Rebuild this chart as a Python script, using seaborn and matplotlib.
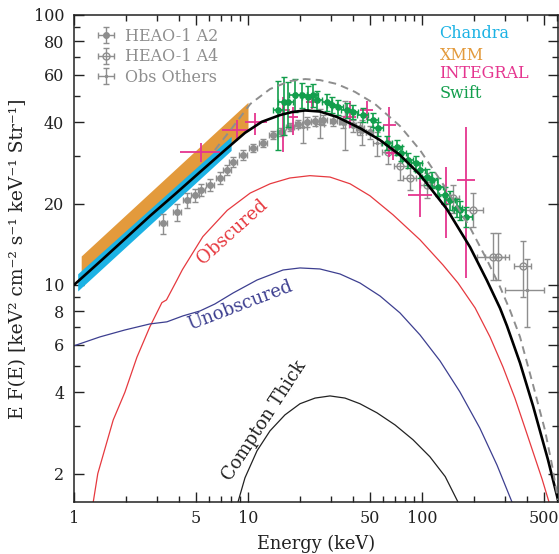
import numpy as np
import pandas as pd
import matplotlib
matplotlib.use("Agg")
import matplotlib.pyplot as plt
import seaborn as sns
from matplotlib.ticker import FixedLocator, FixedFormatter, NullFormatter

sns.set_theme(style="ticks")
plt.rcParams['font.family'] = ['DejaVu Serif']
plt.rcParams['mathtext.fontset'] = 'dejavuserif'

# ---------------- data ----------------
# Total model (thick black)
total_E = [1.0, 1.41, 1.96, 2.73, 3.81, 5.30, 7.38, 9.61, 12.0, 15.3, 17.9, 21.3, 25.9, 32.5, 44.0,
           57.4, 74.7, 97.4, 139, 189, 236, 281, 308, 366, 435, 530, 605]
total_F = [10.0, 12.2, 14.8, 18.0, 21.7, 26.2, 31.6, 36.6, 40.2, 42.6, 43.7, 44.3, 43.9, 41.9, 38.1,
           34.4, 30.3, 25.6, 19.1, 13.8, 10.4, 8.2, 7.05, 5.14, 3.56, 2.25, 1.6]
# Alternative model (grey dashed)
dash_E = [6.45, 8.09, 10.3, 13.4, 17.4, 21.3, 25.9, 32.5, 41.2, 53.7, 74.7, 97.4, 139, 189, 236,
          281, 320, 366, 435, 509, 559, 605]
dash_F = [31.6, 38.1, 46.8, 53.2, 56.9, 57.9, 57.4, 55.5, 51.9, 46.8, 38.8, 31.6, 22.5, 16.3, 12.4,
          9.83, 8.08, 6.42, 4.26, 2.90, 2.15, 1.60]
# Obscured (red)
obs_E = [1.29, 1.37, 1.68, 1.96, 2.3, 2.73, 3.2, 3.4, 3.9, 4.2, 4.8, 5.5, 7.6, 10.3, 13.4, 17.4,
         22.7, 29.6, 38.6, 50.2, 68.1, 97.4, 132, 161, 202, 246, 292, 342, 391, 440, 490, 537]
obs_F = [1.57, 2.0, 3.16, 4.0, 5.4, 7.0, 8.6, 8.8, 10.4, 11.4, 13.1, 15.1, 18.9, 21.9, 23.7, 24.9,
         25.4, 25.1, 23.7, 21.4, 18.2, 14.7, 11.86, 10.17, 8.22, 6.42, 4.97, 3.81, 2.95, 2.35, 1.91, 1.57]
# Unobscured (navy)
unobs_E = [1.0, 1.41, 1.96, 2.73, 3.42, 4.23, 5.30, 6.45, 8.22, 11.27, 15.9, 19.9, 25.9, 33.8, 44.0,
           57.4, 74.7, 97.4, 127, 165, 215, 270, 329]
unobs_F = [5.95, 6.42, 6.81, 7.17, 7.30, 7.68, 8.01, 8.50, 9.34, 10.43, 11.36, 11.56, 11.46, 10.98, 10.17,
           9.10, 7.88, 6.53, 5.23, 4.02, 2.95, 2.15, 1.57]
# Compton thick (thin black)
ct_E = [8.76, 9.61, 11.27, 13.38, 16.3, 19.9, 24.3, 29.6, 36.1, 44.0, 55.1, 70.0, 88.8, 111, 136, 161]
ct_F = [1.57, 1.93, 2.43, 2.88, 3.30, 3.63, 3.81, 3.88, 3.81, 3.63, 3.36, 3.03, 2.67, 2.31, 1.95, 1.57]

# Chandra / XMM bands
chandra_E = [1.05, 8.0]
chandra_lo = [9.5, 31.5]
chandra_hi = [11.0, 35.5]
xmm_E = [1.1, 10.0]
xmm_lo = [11.0, 38.0]
xmm_hi = [12.8, 47.5]

# HEAO-1 A2 (filled grey circles)
a2_E = [3.25, 3.9, 4.45, 4.95, 5.4, 6.05, 6.9, 7.6, 8.2, 9.4, 10.7, 12.2, 13.9, 15.5, 17.4,
        19.5, 21.8, 24.3, 27, 31, 35, 40, 44, 50]
a2_F = [16.9, 18.6, 20.6, 21.5, 22.5, 23.4, 24.9, 26.7, 28.6, 30.3, 32.2, 33.6, 35.9, 37.0, 38.5,
        39.5, 40.2, 40.6, 40.8, 40.6, 40.2, 39.0, 38.0, 36.8]
a2_yerr = [1.4, 1.3, 1.3, 1.2, 1.2, 1.2, 1.2, 1.2, 1.2, 1.2, 1.2, 1.2, 1.3, 1.3, 1.4,
           1.5, 1.6, 1.7, 1.8, 1.9, 2.0, 2.0, 2.0, 2.0]

# HEAO-1 A4 (open grey circles)
a4_E = [64, 75, 85, 107, 150, 196, 255, 272, 380]
a4_F = [31, 27.5, 25, 23.5, 21, 18.9, 12.7, 12.7, 11.8]
a4_ylo = [28, 24.5, 22.5, 21, 18.5, 16.4, 10.4, 10.4, 9.0]
a4_yhi = [34, 30.5, 27.5, 26, 23.5, 21.9, 15.6, 15.6, 14.5]
a4_xlo = [59, 69, 78, 98, 138, 176, 206, 230, 340]
a4_xhi = [70, 82, 93, 117, 163, 224, 300, 318, 425]

# Other observations (small grey points)
oth_E = [20.6, 26, 36, 45, 55, 400]
oth_F = [38.5, 39.5, 40, 37, 33.6, 9.6]
oth_ylo = [33.6, 35, 31.6, 33, 30, 7.0]
oth_yhi = [44.4, 45, 48, 41, 37, 12.5]
oth_xlo = [19.5, 24.5, 34, 42.5, 52, 300]
oth_xhi = [21.7, 27.5, 38, 47.5, 58, 500]

# INTEGRAL (magenta crosses)
int_E = [5.4, 8.6, 11.0, 15.9, 18.2, 23.3, 38.5, 48, 65, 68, 97.5, 137, 178]
int_F = [31.0, 37.5, 40.0, 44.4, 41.9, 47.6, 41.9, 44.4, 39.0, 30.8, 21.5, 20.0, 24.5]
int_xlo = [4.06, 7.1, 9.6, 14.5, 17.0, 21.5, 35, 44, 60, 62, 83, 128, 159]
int_xhi = [6.9, 10.3, 12.8, 17.5, 19.5, 25, 42, 52, 71, 76, 114, 146, 201]
int_ylo = [28.6, 34, 36, 31, 36, 45, 38, 41, 29.8, 29, 17.9, 14.9, 10.6]
int_yhi = [33.6, 41, 43.5, 49.6, 45.6, 50, 48, 48, 45.6, 32.5, 26.2, 27.4, 38.5]

# Swift (green)
sw_E = [14.9, 16.0, 17.0, 18.6, 20.4, 22.0, 23.6, 25.0, 28.5, 30.4, 32.8, 37, 40, 45.7, 52, 56,
        63, 71.5, 76, 83, 93, 97.5, 107, 114, 123, 135, 144, 159, 165, 180]
sw_F = [44.4, 47.5, 47.6, 50.7, 50.7, 49.5, 50.7, 48.4, 47.6, 46.4, 45.6, 44.4, 43.7, 42.6, 40.8, 38.0,
        33.6, 32.4, 30.8, 29.0, 28.3, 26.6, 25.1, 24.5, 23.1, 21.5, 20.6, 19.3, 18.9, 17.9]
sw_yerr = [12.7, 11.5, 9.0, 7.0, 5.5, 5.0, 5.0, 4.0, 3.5, 3.2, 3.0, 2.8, 2.6, 2.5, 2.4, 2.3,
           2.1, 2.0, 2.0, 1.9, 1.8, 1.8, 1.7, 1.7, 1.7, 1.6, 1.6, 1.5, 1.5, 1.5]

# ---------------- colours ----------------
RED = '#e6393f'
NAVY = '#3d3f90'
CYAN = '#1bb2e4'
ORANGE = '#e39a3c'
MAGENTA = '#e5358f'
GREEN = '#129e4c'
GRAY = '#8e8e8e'

fig = plt.figure(figsize=(5.59, 5.54), dpi=100)
ax = fig.add_axes([74 / 559, 1 - 502 / 554, 484 / 559, 487 / 554])
ax.set_xscale('log')
ax.set_yscale('log')

# bands
ax.fill_between(xmm_E, xmm_lo, xmm_hi, color=ORANGE, lw=0, zorder=1)
ax.fill_between(chandra_E, chandra_lo, chandra_hi, color=CYAN, lw=0, zorder=1.1)

# component curves
sns.lineplot(x=obs_E, y=obs_F, ax=ax, color=RED, lw=0.9, zorder=2, estimator=None, sort=False)
sns.lineplot(x=unobs_E, y=unobs_F, ax=ax, color=NAVY, lw=0.9, zorder=2, estimator=None, sort=False)
sns.lineplot(x=ct_E, y=ct_F, ax=ax, color='#222222', lw=0.9, zorder=2, estimator=None, sort=False)

# data points
def asym(v, lo, hi):
    v = np.asarray(v)
    return [v - np.asarray(lo), np.asarray(hi) - v]

h_a2 = ax.errorbar(a2_E, a2_F, yerr=a2_yerr, xerr=[np.array(a2_E) * 0.05, np.array(a2_E) * 0.05],
                   fmt='o', ms=4, color=GRAY, ecolor=GRAY, elinewidth=1.0, capsize=2.5,
                   zorder=3, label='HEAO-1 A2')
h_a4 = ax.errorbar(a4_E, a4_F, yerr=asym(a4_F, a4_ylo, a4_yhi), xerr=asym(a4_E, a4_xlo, a4_xhi),
                   fmt='o', ms=5, mfc='none', mec=GRAY, color=GRAY, ecolor=GRAY, elinewidth=1.0,
                   capsize=2.5, zorder=3, label='HEAO-1 A4')
h_oth = ax.errorbar(oth_E, oth_F, yerr=asym(oth_F, oth_ylo, oth_yhi), xerr=asym(oth_E, oth_xlo, oth_xhi),
                    fmt='.', ms=3, color=GRAY, ecolor=GRAY, elinewidth=1.0, capsize=2.5,
                    zorder=3, label='Obs Others')
ax.errorbar(int_E, int_F, yerr=asym(int_F, int_ylo, int_yhi), xerr=asym(int_E, int_xlo, int_xhi),
            fmt='none', ecolor=MAGENTA, elinewidth=1.3, capsize=0, zorder=3.5)
ax.errorbar(sw_E, sw_F, yerr=sw_yerr, xerr=[np.array(sw_E) * 0.07, np.array(sw_E) * 0.07],
            fmt='o', ms=3.8, color=GREEN, ecolor=GREEN, elinewidth=1.2, capsize=2.5, zorder=3.6)

# totals
sns.lineplot(x=total_E, y=total_F, ax=ax, color='black', lw=1.9, zorder=4, estimator=None, sort=False)
sns.lineplot(x=dash_E, y=dash_F, ax=ax, color=GRAY, lw=1.4, zorder=4, estimator=None, sort=False,
             linestyle=(0, (4, 2.7)))

ax.set_xlim(1, 605)
ax.set_ylim(1.57, 100)

# ticks
ax.xaxis.set_major_locator(FixedLocator([1, 5, 10, 50, 100, 500]))
ax.xaxis.set_major_formatter(FixedFormatter(['1', '5', '10', '50', '100', '500']))
ax.xaxis.set_minor_locator(FixedLocator([2, 3, 4, 6, 7, 8, 9, 20, 30, 40, 60, 70, 80, 90,
                                         200, 300, 400, 600]))
ax.xaxis.set_minor_formatter(NullFormatter())
ax.yaxis.set_major_locator(FixedLocator([2, 4, 6, 8, 10, 20, 40, 60, 80, 100]))
ax.yaxis.set_major_formatter(FixedFormatter(['2', '4', '6', '8', '10', '20', '40', '60', '80', '100']))
ax.yaxis.set_minor_locator(FixedLocator([3, 5, 7, 9, 30, 50, 70, 90]))
ax.yaxis.set_minor_formatter(NullFormatter())
ax.tick_params(which='both', direction='in', top=True, right=True, color='#222222', width=1.0)
ax.tick_params(which='major', length=7.5, labelsize=11.5, labelcolor='#222222')
ax.tick_params(axis='y', which='major', pad=7)
ax.tick_params(axis='x', which='major', pad=6)
ax.tick_params(which='minor', length=4)
for s in ax.spines.values():
    s.set_linewidth(1.1)
    s.set_color('#222222')
    s.set_visible(True)

ax.set_xlabel('Energy (keV)', fontsize=12.8, color='#222222', labelpad=5)
ax.set_ylabel('E F(E) [keV² cm⁻² s⁻¹ keV⁻¹ Str⁻¹]', fontsize=13.5, color='#222222', labelpad=5)

# curve labels
ax.text(8.1, 15.7, 'Obscured', color=RED, fontsize=13, rotation=42, ha='center', va='center',
        rotation_mode='anchor', zorder=5)
ax.text(9.0, 8.4, 'Unobscured', color=NAVY, fontsize=13, rotation=21, ha='center', va='center',
        rotation_mode='anchor', zorder=5)
ax.text(12.5, 3.14, 'Compton Thick', color='#222222', fontsize=13, rotation=57, ha='center',
        va='center', rotation_mode='anchor', zorder=5)

# instrument labels (right)
for name, col, py in [('Chandra', CYAN, 34), ('XMM', ORANGE, 55), ('INTEGRAL', MAGENTA, 74),
                      ('Swift', GREEN, 94)]:
    ax.text(0.755, (502 - py) / 487, name, color=col, fontsize=11.5, transform=ax.transAxes,
            ha='left', va='center', zorder=5)

leg = ax.legend(handles=[h_a2, h_a4, h_oth], labels=['HEAO-1 A2', 'HEAO-1 A4', 'Obs Others'],
                loc='upper left', bbox_to_anchor=(0.01, 1.003), frameon=False, fontsize=11.5,
                handlelength=1.6, handletextpad=0.4, labelspacing=0.22, labelcolor=GRAY)

fig.savefig('out.png', dpi=100)
